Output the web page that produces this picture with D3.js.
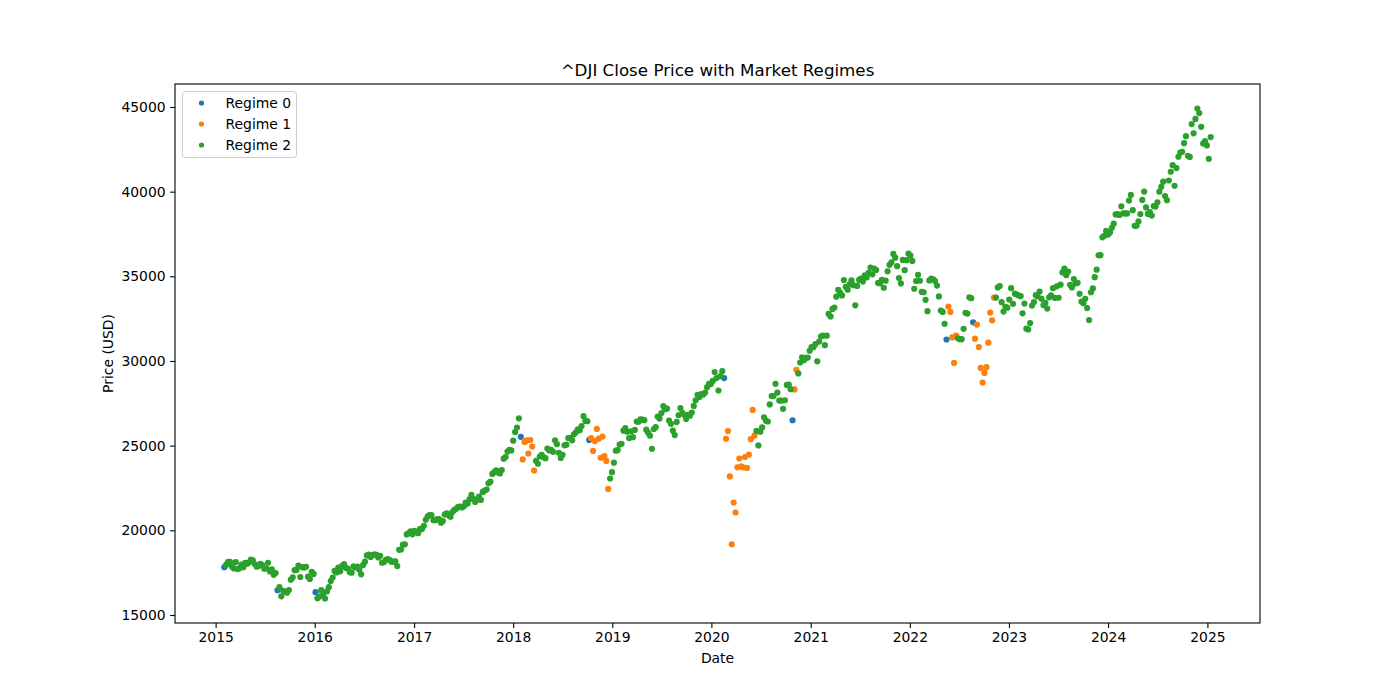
<!DOCTYPE html>
<html>
<head>
<meta charset="utf-8">
<script src="https://cdn.jsdelivr.net/npm/d3@7"></script>
<style>
  html, body { margin: 0; padding: 0; background: #ffffff; }
  svg { display: block; }
  text { font-family: "DejaVu Sans", sans-serif; fill: #000; }
</style>
</head>
<body>
<svg id="chart" width="1400" height="700"></svg>
<script>
// ---- DATA: weekly ^DJI closes (week starting Monday) ----
const firstWeek = "2015-02-02";
const close2015 = [17824,17973,18140,18133, 17857,17749,18128,17713, 17763,17977,17826,18080,
  18024,18105,18272,18232,18010, 17849,17899,18015,17947, 17730,17760,18086,17568,17690,
  17373,17477,16460,16643, 16102,16433,16385,16315, 16472,17084,17216,17646,17663,
  17910,17245,17824,17798, 17848,17265,17128,17553,17425];
const close2016 = [16346,15988,16093,16466, 16205,15974,16392,16640, 17006,17213,17602,17516,
  17793,17577,17898,18004,17774, 17741,17535,17501,17873, 17807,17865,17675,17400,
  17949,18147,18517,18571,18432, 18543,18577,18553,18396, 18492,18086,18124,18262,18308,
  18240,18139,18146,18161, 17889,18848,18868,19152, 19171,19757,19843,19934,19763];
const close2017 = [19964,19885,19827,20094, 20071,20269,20624,20822, 20903,20903,20596,20597,20663,
  20656,20453,20548,20941, 21007,20897,20805,21080, 21206,21272,21384,21395,21350,
  21414,21638,21580,21830, 22093,21858,21675,21814, 21988,21798,22268,22350,22405,
  22774,22872,23329,23434, 23539,23422,23358,23558, 24231,24329,24651,24754,24719];
const close2018 = [25295,25803,26071,26616, 25520,24190,25219,25309, 24538,25335,24946,23533,24103,
  23932,24360,24462,24311, 24262,24831,24715,24753, 24635,25317,25090,24580,24271,
  24456,25019,25058,25451, 25462,25313,25669,25790,25964, 25916,26154,26743,26458,
  26447,25339,25444,24688, 25270,25989,25413,24286,25538, 24389,24100,22445,23062];
const close2019 = [23433,23996,24706,24737, 25064,25106,25883,26031, 25820,25450,25849,25502,25929,
  26425,26412,26559,26543, 26505,25942,25764,25586,24815, 25984,26090,26719,26600,
  26922,27332,27154,27192, 26485,26287,25886,25628,26403, 26797,27220,26935,26820,
  26573,26817,26770,26958, 27347,27681,28004,27876,28051, 28015,28135,28455,28645];
const close2020 = [28634,28823,29348,28990,28256, 29102,29398,28992,25409, 25864,23186,19174,21637,
  21053,23719,24242,23775, 23723,24331,23685,24465,25383, 27111,25606,25871,25016,
  25827,26075,26672,26470,26428, 27433,27931,27930,28654, 28133,27666,27657,27174,
  27683,28587,28606,28336,26502, 28323,29480,29263,29910, 30218,30046,30179,30200,30606];
const close2021 = [30814,30814,30997,29983, 31148,31458,31494,30932, 31496,32779,32628,33073,
  33153,33801,34200,34043,33875, 34778,34382,34208,34529, 34756,34480,33290,34433,
  34786,34870,34688,35061,34935, 35209,35515,35120,35455, 35369,34608,34584,34798,
  34326,34746,35295,35677,35820, 36328,36100,35602,34899, 34580,35971,35365,35951,36338];
const close2022 = [36231,35912,34265,34725, 35090,34738,34079,34059, 33615,32944,34755,34861,
  34818,34721,34451,33811,32977, 32899,32197,31262,33213, 32899,31393,29888,31501,
  31338,31288,31289,31899,32845, 32803,33761,33707,32283, 31318,32151,30822,29590,28726,
  29297,29635,31083,32862, 32403,33748,33746,34347, 34430,33476,32920,33204,33147];
const close2023 = [33631,34303,33375,33978, 33926,33869,33827,32817, 33391,31910,31862,32238,33274,
  33485,33886,33809,34098, 33674,33301,33427,33093, 33762,33877,34299,33727,34408,
  33734,34509,35228,35459, 35066,35281,34500,34346, 34837,34577,34618,33964,33507,
  33407,33670,33127,32418, 34061,34283,34947,35390, 36245,36248,37305,37385,37690];
const close2024 = [37466,37593,37864,38109, 38654,38671,38628,39131, 38723,38715,38714,39476,39807,
  38904,37983,37986,38240, 38676,39513,40004,39070,38686, 38799,38589,39150,39119,
  39376,40001,40288,40589, 39737,39498,40660,41175,41563, 40345,41394,42063,42313,
  42353,42864,43276,42114, 42052,43989,43445,44297,44911, 44643,43828,42840,42992];
const close2025 = [42732,41938,43222];

// regime label per week, grouped by month (0, 1, 2)
const regime2015 = "0222 2222 2222 22222 2222 22222 2202 2222 22222 2222 22222";
const regime2016 = "0222 2222 2222 22222 2222 2222 22222 2222 22222 2222 2222 22222";
const regime2017 = "2222 2222 22222 2222 2222 22222 2222 2222 22222 2222 2222 22222";
const regime2018 = "2222 0111 11112 2222 2222 22222 2222 22222 2222 2011 11111 1112";
const regime2019 = "2222 2222 22222 2222 22222 2222 2222 22222 2222 2222 22222 2222";
const regime2020 = "22222 2201 1111 1111 11111 1122 22222 2222 2222 22220 1122 22222";
const regime2021 = "2222 2222 2222 22222 2222 2222 22222 2222 2222 22222 2222 22222";
const regime2022 = "2222 2222 2222 22222 2201 1111 22222 2220 11111 1111 1122 22222";
const regime2023 = "2222 2222 22222 2222 2222 22222 2222 2222 22222 2222 2222 22222";
const regime2024 = "2222 2222 22222 2222 22222 2222 2222 22222 2222 2222 22222 2222";
const regime2025 = "222";

const regimeNames = ["Regime 0", "Regime 1", "Regime 2"];
const regimeColors = ["#1f77b4", "#ff7f0e", "#2ca02c"];
const yTicks = [15000, 20000, 25000, 30000, 35000, 40000, 45000];
const xTickYears = [2015, 2016, 2017, 2018, 2019, 2020, 2021, 2022, 2023, 2024, 2025];

// ---- build table ----
const closes = [].concat(close2015, close2016, close2017, close2018, close2019, close2020,
  close2021, close2022, close2023, close2024, close2025);
const regimes = [regime2015, regime2016, regime2017, regime2018, regime2019, regime2020,
  regime2021, regime2022, regime2023, regime2024, regime2025].join("").replace(/\s/g, "").split("").map(Number);
const start = d3.timeParse("%Y-%m-%d")(firstWeek);
const dates = d3.timeMonday.range(start, d3.timeMonday.offset(start, closes.length));
const data = closes.map((c, i) => ({ date: dates[i], close: c, regime: regimes[i] }));

// ---- layout ----
const svg = d3.select("#chart");
const L = 175, R = 1260, T = 84, B = 623;

const xExt = d3.extent(data, d => d.date);
const xPad = (xExt[1] - xExt[0]) * 0.05;
const x = d3.scaleTime()
  .domain([new Date(+xExt[0] - xPad), new Date(+xExt[1] + xPad)])
  .range([L, R]);
const yExt = d3.extent(data, d => d.close);
const yPad = (yExt[1] - yExt[0]) * 0.05;
const y = d3.scaleLinear().domain([yExt[0] - yPad, yExt[1] + yPad]).range([B, T]);

// points, one layer per regime (matplotlib draws regime 0, 1, 2 in order)
const gPts = svg.append("g");
[0, 1, 2].forEach(r => {
  gPts.append("g").selectAll("circle")
    .data(data.filter(d => d.regime === r))
    .join("circle")
    .attr("cx", d => x(d.date))
    .attr("cy", d => y(d.close))
    .attr("r", 3.1)
    .attr("fill", regimeColors[r]);
});

// axes
const xAxis = d3.axisBottom(x)
  .tickValues(xTickYears.map(yr => new Date(yr, 0, 1)))
  .tickFormat(d3.timeFormat("%Y"))
  .tickSize(4.9).tickPadding(4.5);
const gx = svg.append("g").attr("transform", `translate(0,${B})`).call(xAxis);
gx.select(".domain").remove();
gx.selectAll("line").attr("stroke", "#000").attr("stroke-width", 1.1);
gx.selectAll("text").attr("font-size", "13.9px").attr("font-family", "DejaVu Sans, sans-serif").attr("fill", "#000");

const yAxis = d3.axisLeft(y).tickValues(yTicks).tickFormat(d3.format("d"))
  .tickSize(4.9).tickPadding(4.5);
const gy = svg.append("g").attr("transform", `translate(${L},0)`).call(yAxis);
gy.select(".domain").remove();
gy.selectAll("line").attr("stroke", "#000").attr("stroke-width", 1.1);
gy.selectAll("text").attr("font-size", "13.9px").attr("font-family", "DejaVu Sans, sans-serif").attr("fill", "#000");

// frame
svg.append("rect").attr("x", L).attr("y", T).attr("width", R - L).attr("height", B - T)
  .attr("fill", "none").attr("stroke", "#000").attr("stroke-width", 1.1);

// title and labels
svg.append("text").attr("x", (L + R) / 2).attr("y", 76).attr("text-anchor", "middle")
  .attr("font-size", "16.7px").text("^DJI Close Price with Market Regimes");
svg.append("text").attr("x", (L + R) / 2).attr("y", 663).attr("text-anchor", "middle")
  .attr("font-size", "13.9px").text("Date");
svg.append("text").attr("transform", `translate(113,${(T + B) / 2}) rotate(-90)`)
  .attr("text-anchor", "middle").attr("font-size", "13.9px").text("Price (USD)");

// legend
const lg = svg.append("g");
lg.append("rect").attr("x", 182.5).attr("y", 91.5).attr("width", 114).attr("height", 66)
  .attr("rx", 3).attr("fill", "#fff").attr("fill-opacity", 0.8)
  .attr("stroke", "#cccccc").attr("stroke-width", 1);
regimeNames.forEach((name, i) => {
  const yy = 103 + i * 21;
  lg.append("circle").attr("cx", 201.5).attr("cy", yy).attr("r", 2.6).attr("fill", regimeColors[i]);
  lg.append("text").attr("x", 225.5).attr("y", yy + 5).attr("font-size", "13.9px").text(name);
});
</script>
</body>
</html>
